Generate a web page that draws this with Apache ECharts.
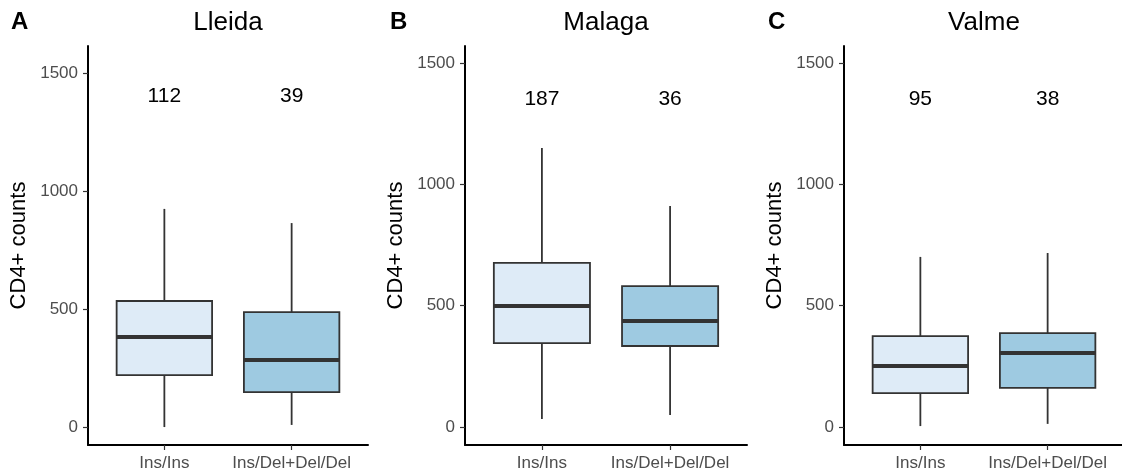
<!DOCTYPE html>
<html>
<head>
<meta charset="utf-8">
<script src="https://cdn.jsdelivr.net/npm/echarts@6/dist/echarts.min.js"></script>
<style>
html, body { margin: 0; padding: 0; background: #fff; }
#chart { width: 1122px; height: 475px; }
</style>
</head>
<body>
<div id="chart"></div>
<script>
var categories = ['Ins/Ins', 'Ins/Del+Del/Del'];
var sites = ['Lleida', 'Malaga', 'Valme'];
var letters = ['A', 'B', 'C'];
var yTicks = [0, 500, 1000, 1500];

// each box: [min, Q1, median, Q3, max]
var lleidaBoxes = [[0, 220, 381, 534, 924], [9, 148, 284, 487, 864]];
var malagaBoxes = [[33, 346, 499, 676, 1150], [50, 334, 437, 581, 911]];
var valmeBoxes = [[4, 140, 251, 375, 701], [13, 161, 305, 387, 717]];

// number of patients per group
var lleidaCounts = [112, 39];
var malagaCounts = [187, 36];
var valmeCounts = [95, 38];
var countLabelY = [1400, 1350, 1350];

var boxesBySite = [lleidaBoxes, malagaBoxes, valmeBoxes];
var countsBySite = [lleidaCounts, malagaCounts, valmeCounts];

var FONT = '"Liberation Sans", Arial, sans-serif';
var boxColors = ['#deebf7', '#9ecae1'];
var panels = [
	{left: 88, width: 280, yMin: -76, yMax: 1614, letterX: 11},
	{left: 465, width: 282, yMin: -74, yMax: 1570, letterX: 390},
	{left: 844, width: 280, yMin: -74, yMax: 1570, letterX: 768}
];
var gridTop = 46, gridHeight = 399;

var mychart = echarts.init(document.getElementById('chart'));

function renderBox(params, api) {
	var x = api.value(0);
	var lo = api.coord([x, api.value(1)]);
	var q1 = api.coord([x, api.value(2)]);
	var med = api.coord([x, api.value(3)]);
	var q3 = api.coord([x, api.value(4)]);
	var hi = api.coord([x, api.value(5)]);
	var w = api.size([0.75, 0])[0];
	return {
		type: 'group',
		children: [
			{type: 'line', shape: {x1: lo[0], y1: lo[1], x2: hi[0], y2: hi[1]}, style: {stroke: '#333', lineWidth: 1.8}},
			{type: 'rect', shape: {x: q3[0] - w / 2, y: q3[1], width: w, height: q1[1] - q3[1]},
				style: {fill: boxColors[params.dataIndex], stroke: '#333', lineWidth: 1.8}},
			{type: 'line', shape: {x1: med[0] - w / 2, y1: med[1], x2: med[0] + w / 2, y2: med[1]}, style: {stroke: '#333', lineWidth: 4}}
		]
	};
}

function renderCount(params, api) {
	var p = api.coord([api.value(0), api.value(1)]);
	return {
		type: 'text', x: p[0], y: p[1],
		style: {text: String(api.value(2)), fill: '#000', fontSize: 21, fontFamily: FONT, align: 'center', verticalAlign: 'middle'}
	};
}

var grids = [], xAxes = [], yAxes = [], series = [], graphics = [];
$each = function(arr, fn){ for (var i = 0; i < arr.length; i++) fn(i, arr[i]); };

$each(panels, function(i, pn) {
	grids.push({left: pn.left, top: gridTop, width: pn.width, height: gridHeight, containLabel: false, outerBoundsMode: 'none'});
	xAxes.push({
		type: 'value', gridIndex: i, min: 0.4, max: 2.6,
		axisLine: {show: true, onZero: false, lineStyle: {color: '#000', width: 2}},
		axisTick: {show: true, customValues: [1, 2], length: 5, lineStyle: {color: '#333', width: 1.2}},
		axisLabel: {customValues: [1, 2], color: '#4d4d4d', fontSize: 17, fontFamily: FONT, margin: 10,
			formatter: function(v){ return categories[Math.round(v) - 1]; }},
		splitLine: {show: false}
	});
	yAxes.push({
		type: 'value', gridIndex: i, min: pn.yMin, max: pn.yMax,
		name: 'CD4+ counts', nameLocation: 'middle', nameGap: 58,
		nameTextStyle: {color: '#000', fontSize: 22, fontFamily: FONT},
		axisLine: {show: true, onZero: false, lineStyle: {color: '#000', width: 2}},
		axisTick: {show: true, customValues: yTicks, length: 5, lineStyle: {color: '#333', width: 1.2}},
		axisLabel: {customValues: yTicks, color: '#4d4d4d', fontSize: 17, fontFamily: FONT, margin: 10,
			formatter: function(v){ return String(v); }},
		splitLine: {show: false}
	});
	var boxData = [];
	var countData = [];
	$each(boxesBySite[i], function(j, b) {
		boxData.push([j + 1].concat(b));
		countData.push([j + 1, countLabelY[i], countsBySite[i][j]]);
	});
	series.push({
		type: 'custom', xAxisIndex: i, yAxisIndex: i,
		renderItem: renderBox, encode: {x: 0, y: [1, 2, 3, 4, 5]},
		data: boxData, silent: true
	});
	series.push({
		type: 'custom', xAxisIndex: i, yAxisIndex: i,
		renderItem: renderCount, encode: {x: 0, y: 1},
		data: countData, silent: true
	});
	// panel title and letter
	graphics.push({type: 'text', x: pn.left + pn.width / 2, y: 23,
		style: {text: sites[i], fill: '#000', fontSize: 26, fontFamily: FONT, align: 'center', verticalAlign: 'middle'}});
	graphics.push({type: 'text', x: pn.letterX, y: 22,
		style: {text: letters[i], fill: '#000', fontSize: 24, fontWeight: 'bold', fontFamily: FONT, align: 'left', verticalAlign: 'middle'}});
});

var option = {
	animation: false,
	backgroundColor: '#fff',
	textStyle: {fontFamily: FONT},
	grid: grids,
	xAxis: xAxes,
	yAxis: yAxes,
	series: series,
	graphic: graphics
};
mychart.setOption(option);
</script>
</body>
</html>
